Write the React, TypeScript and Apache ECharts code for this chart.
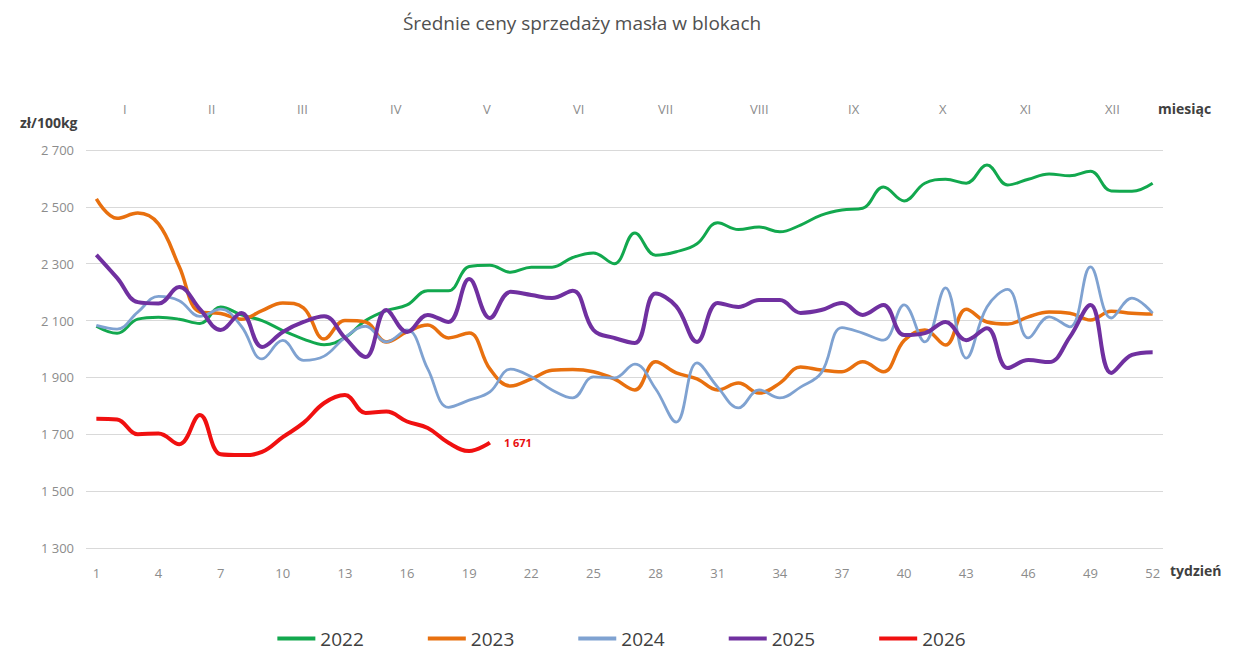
import React, { useEffect, useRef } from "react";
import * as echarts from "echarts";

const weeks: string[] = Array.from({ length: 52 }, (_, i) => String(i + 1));

const s2022 = [2080, 2055, 2105, 2112, 2105, 2090, 2148, 2120, 2100, 2065, 2035, 2015, 2040, 2100, 2135, 2155, 2205, 2205, 2290, 2295, 2270, 2288, 2288, 2322, 2338, 2300, 2408, 2330, 2342, 2370, 2444, 2420, 2429, 2412, 2436, 2471, 2489, 2495, 2570, 2521, 2583, 2597, 2583, 2647, 2577, 2597, 2616, 2609, 2625, 2556, 2555, 2583];
const s2023 = [2528, 2460, 2478, 2440, 2290, 2130, 2125, 2105, 2135, 2162, 2145, 2035, 2100, 2095, 2025, 2060, 2084, 2039, 2056, 1930, 1870, 1895, 1925, 1928, 1920, 1895, 1856, 1955, 1916, 1895, 1856, 1880, 1845, 1880, 1937, 1926, 1920, 1955, 1920, 2030, 2067, 2014, 2140, 2095, 2088, 2113, 2130, 2126, 2102, 2133, 2126, 2123];
const s2024 = [2083, 2070, 2130, 2185, 2170, 2115, 2140, 2080, 1965, 2030, 1960, 1975, 2040, 2080, 2025, 2067, 1930, 1795, 1820, 1849, 1929, 1902, 1856, 1828, 1902, 1898, 1947, 1860, 1743, 1951, 1866, 1793, 1856, 1828, 1866, 1916, 2075, 2056, 2031, 2155, 2025, 2215, 1968, 2148, 2210, 2039, 2113, 2078, 2289, 2109, 2179, 2126];
const s2025 = [2331, 2250, 2165, 2160, 2218, 2140, 2067, 2127, 2007, 2060, 2095, 2115, 2040, 1972, 2137, 2060, 2120, 2095, 2246, 2109, 2201, 2190, 2179, 2205, 2067, 2039, 2021, 2195, 2150, 2025, 2162, 2148, 2172, 2172, 2127, 2137, 2162, 2120, 2155, 2049, 2056, 2095, 2031, 2073, 1933, 1961, 1954, 2042, 2155, 1916, 1979, 1989];
const s2026 = [1755, 1752, 1700, 1703, 1665, 1768, 1630, 1627, 1638, 1690, 1740, 1810, 1838, 1775, 1780, 1745, 1722, 1670, 1641, 1671];

const months = ["I", "II", "III", "IV", "V", "VI", "VII", "VIII", "IX", "X", "XI", "XII"];
const monthX = [123, 208, 297, 390, 483, 573, 658, 750, 848, 939, 1020, 1105];

const seriesNames = ["2022", "2023", "2024", "2025", "2026"];
const seriesData = [s2022, s2023, s2024, s2025, s2026];
const colors = ["#12A84E", "#E8700F", "#7FA2D1", "#7030A0", "#F01010"];
const widths = [3, 3.5, 2.8, 4, 4];

const fmt = (v: number) => String(v).replace(/\B(?=(\d{3})+(?!\d))/g, " ");

export default function App() {
  const ref = useRef<HTMLDivElement>(null);
  useEffect(() => {
    document.body.style.margin = "0";
    const chart = echarts.init(ref.current!, null, { renderer: "svg" });
    const font = "'Open Sans', 'Noto Sans', sans-serif";
    const series: any[] = seriesNames.map((name, i) => ({
      name,
      type: "line",
      data: seriesData[i],
      smooth: 0.4,
      showSymbol: false,
      symbol: "none",
      z: i + 2,
      lineStyle: { color: colors[i], width: widths[i] },
      itemStyle: { color: colors[i] },
    }));
    series[4].endLabel = {
      show: true,
      distance: 14,
      formatter: (p: any) => fmt(Array.isArray(p.value) ? p.value[1] : p.value),
      color: "#E81010",
      fontWeight: "bold",
      fontSize: 11,
      fontFamily: font,
    };
    chart.setOption({
      animation: false,
      backgroundColor: "#ffffff",
      textStyle: { fontFamily: font },
      title: {
        text: "Średnie ceny sprzedaży masła w blokach",
        left: 577,
        top: 8,
        textAlign: "center",
        textStyle: { fontSize: 19, fontWeight: "normal", color: "#505050", fontFamily: font },
      },
      legend: {
        bottom: 4,
        left: "center",
        itemWidth: 38,
        itemHeight: 4,
        itemGap: 64,
        icon: "rect",
        textStyle: { fontSize: 19, color: "#404040", fontFamily: font },
        data: seriesNames,
      },
      grid: { left: 86, right: 80, top: 150, bottom: 109 },
      xAxis: {
        type: "category",
        data: weeks,
        boundaryGap: true,
        axisLine: { show: false },
        axisTick: { show: false },
        axisLabel: { interval: 2, color: "#8c8c8c", fontSize: 13, margin: 18, fontFamily: font },
        splitLine: { show: false },
      },
      yAxis: {
        type: "value",
        min: 1300,
        max: 2700,
        interval: 200,
        axisLine: { show: false },
        axisTick: { show: false },
        axisLabel: { color: "#8c8c8c", fontSize: 13, margin: 12, formatter: (v: number) => fmt(v), fontFamily: font },
        splitLine: { lineStyle: { color: "#d9d9d9", width: 1 } },
      },
      graphic: [
        ...months.map((m, i) => ({
          type: "text",
          left: monthX[i],
          top: 102,
          style: { text: m, fill: "#8c8c8c", fontSize: 13, fontFamily: font, textAlign: "center" },
        })),
        {
          type: "text",
          left: 1158,
          top: 101,
          style: { text: "miesiąc", fill: "#404040", fontSize: 14, fontWeight: "bold", fontFamily: font },
        },
        {
          type: "text",
          left: 20,
          top: 115,
          style: { text: "zł/100kg", fill: "#404040", fontSize: 14, fontWeight: "bold", fontFamily: font },
        },
        {
          type: "text",
          left: 1170,
          top: 563,
          style: { text: "tydzień", fill: "#404040", fontSize: 14, fontWeight: "bold", fontFamily: font },
        },
      ],
      series,
    });
    return () => chart.dispose();
  }, []);
  return <div ref={ref} style={{ width: 1243, height: 657 }} />;
}
